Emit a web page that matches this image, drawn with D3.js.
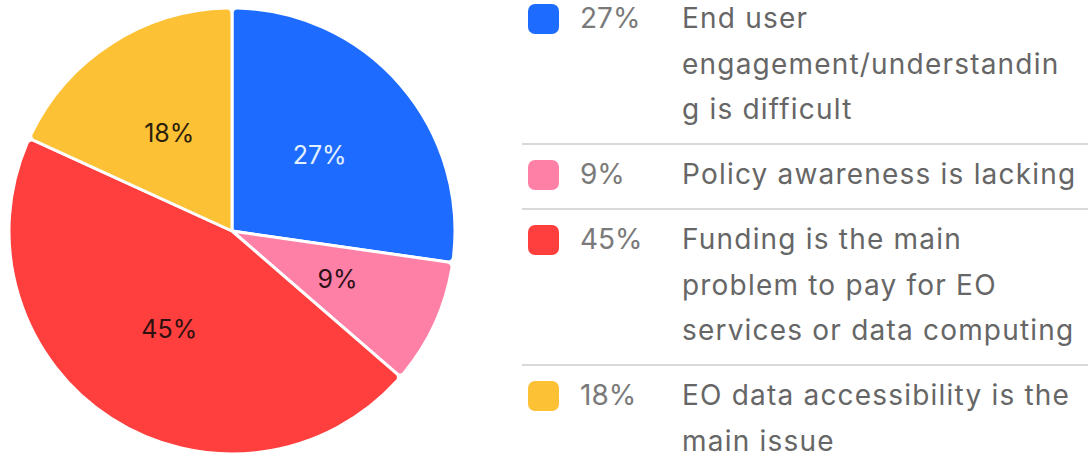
<!DOCTYPE html>
<html>
<head>
<meta charset="utf-8">
<script src="https://cdn.jsdelivr.net/npm/d3@7"></script>
<style>
  html, body { margin: 0; padding: 0; background: #ffffff; }
  svg { display: block; }
</style>
</head>
<body>
<svg id="chart" width="1088" height="459"></svg>
<script>
const categories = [
  "End user engagement/understanding is difficult",
  "Policy awareness is lacking",
  "Funding is the main problem to pay for EO services or data computing",
  "EO data accessibility is the main issue"
];
const values = [27, 9, 45, 18];
const percentLabels = ["27%", "9%", "45%", "18%"];
const legendLines = [
  ["End user", "engagement/understandin", "g is difficult"],
  ["Policy awareness is lacking"],
  ["Funding is the main", "problem to pay for EO", "services or data computing"],
  ["EO data accessibility is the", "main issue"]
];
const colors = ["#1d6cff", "#ff80a6", "#ff3f3d", "#fdc135"];
const labelColors = ["#e3f0ff", "#2e1018", "#2e1010", "#2a200c"];

const svg = d3.select("#chart");
const font = "Inter, 'Noto Sans', sans-serif";

// Pie
const cx = 232, cy = 231, R = 223;
const pie = d3.pie().sort(null).value(d => d)(values);
const arc = d3.arc().innerRadius(0).outerRadius(R).cornerRadius(5);
const labelArc = d3.arc().innerRadius(116).outerRadius(116);

const g = svg.append("g").attr("transform", `translate(${cx},${cy})`);
g.selectAll("path.slice")
  .data(pie)
  .join("path")
  .attr("class", "slice")
  .attr("d", arc)
  .attr("fill", (d, i) => colors[i])
  .attr("stroke", "#ffffff")
  .attr("stroke-width", 3)
  .attr("stroke-linejoin", "round");

g.selectAll("text.pl")
  .data(pie)
  .join("text")
  .attr("class", "pl")
  .attr("transform", d => `translate(${labelArc.centroid(d)})`)
  .attr("text-anchor", "middle")
  .attr("dy", "0.36em")
  .attr("font-family", font)
  .attr("font-size", 25)
  .attr("fill", (d, i) => labelColors[i])
  .text((d, i) => percentLabels[i]);

// Legend
const lineH = 45.5, firstOff = 40, sepOff = 25;
let y = 28;
const rows = [];
legendLines.forEach((lines, i) => {
  const base = y;
  const last = base + (lines.length - 1) * lineH;
  rows.push({ i, base, lines, sep: i < legendLines.length - 1 ? last + sepOff : null });
  y = last + sepOff + firstOff;
});

const lg = svg.append("g");
rows.forEach(r => {
  lg.append("rect")
    .attr("x", 528).attr("y", r.base - 24)
    .attr("width", 31).attr("height", 30)
    .attr("rx", 7)
    .attr("fill", colors[r.i]);
  lg.append("text")
    .attr("x", 580).attr("y", r.base)
    .attr("font-family", font).attr("font-size", 28)
    .attr("fill", "#7a7a7a")
    .text(percentLabels[r.i]);
  r.lines.forEach((t, k) => {
    lg.append("text")
      .attr("x", 682).attr("y", r.base + k * lineH)
      .attr("font-family", font).attr("font-size", 28)
      .attr("letter-spacing", 1.2)
      .attr("fill", "#666666")
      .text(t);
  });
  if (r.sep !== null) {
    lg.append("line")
      .attr("x1", 522).attr("x2", 1088)
      .attr("y1", r.sep).attr("y2", r.sep)
      .attr("stroke", "#d9d9d9").attr("stroke-width", 2);
  }
});
</script>
</body>
</html>
